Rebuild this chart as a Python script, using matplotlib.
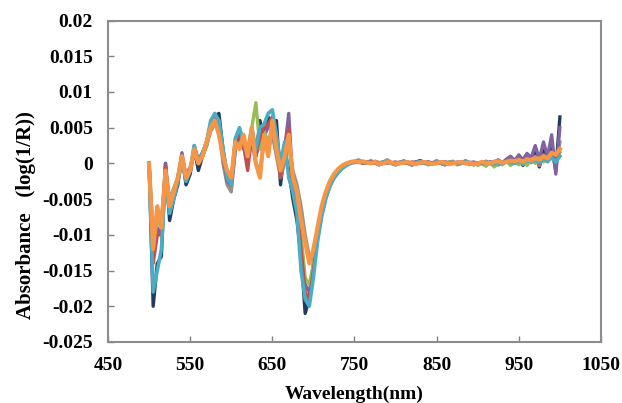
import numpy as np
import matplotlib as mpl
mpl.use("Agg")
import matplotlib.pyplot as plt

mpl.rcParams.update({"font.family": "Liberation Serif", "font.weight": "bold",
                     "axes.labelweight": "bold", "font.size": 14})

# wavelength grid, 5 nm steps from 500 to 1000 nm
wavelength = np.arange(500, 1001, 5)

# absorbance values in units of 1e-3, ten points per row (500-545, 550-595, ...)
navy = [
    0, -20, -14, -13, 0, -8, -5, -3, 1, -3,
    -1.5, 2, -1, 1, 2.5, 5, 6.5, 7, 2, -1.5,
    -3.5, 2, 4, 3, 2, 4, 1, 6, 3, 6.5,
    5, 6, -3, 2, -1, -5, -8, -13, -21, -19,
    -14, -10, -7, -4.5, -3, -2, -1.2, -0.6, -0.2, 0.1,
    0.2, 0.4, 0.2, 0.0, 0.3, 0.1, -0.2, 0.1, 0.4, 0.0,
    -0.2, 0.1, 0.3, 0.0, -0.2, 0.2, 0.4, 0.1, -0.1, 0.0,
    0.3, 0.0, -0.2, 0.1, 0.2, -0.1, 0.0, 0.3, 0.1, -0.2,
    0.1, 0.0, -0.3, 0.2, 0.1, -0.2, 0.0, 0.3, 0.6, 0.1,
    0.9, -0.3, 1.2, 0.2, 1.5, -0.5, 1.8, 0.4, 2.2, -1.0,
    6.5]
gray = [
    0, -10, -7, -8, -1, -5, -3.5, -2, 0.5, -1.5,
    -0.5, 1.5, 0, 1, 2.5, 4.5, 5.5, 5, 0, -3,
    -4, 2, 3, 2.5, 0.5, 3, 0, -1, 3, 2,
    4, 1, -2, 0, 3, -1, -3, -6, -10, -13,
    -13, -10, -7, -4.8, -3.2, -2.1, -1.3, -0.7, -0.3, 0.0,
    0.3, 0.5, 0.2, 0.1, 0.4, 0.0, -0.2, 0.2, 0.5, 0.1,
    -0.2, 0.0, 0.4, 0.1, -0.3, 0.2, 0.3, 0.0, -0.2, 0.1,
    0.4, 0.0, -0.2, 0.2, 0.3, -0.2, 0.0, 0.4, 0.1, -0.2,
    0.0, 0.2, -0.2, 0.1, 0.3, -0.1, 0.1, 0.2, 0.5, 0.0,
    0.6, -0.2, 0.8, 0.1, 1.0, -0.3, 1.2, 0.2, 1.6, -0.5,
    3.0]
purple = [
    0, -13, -9, -10, 0, -6, -4, -2, 1.5, -2,
    -1, 2.5, 0.5, 1.5, 3, 5.5, 6, 5, 1, -2.5,
    -3, 3, 4.5, 2, 1.5, 4, 1, 3, 4, 5,
    6, 3, -1, 2, 7, -3, -6, -11, -17, -18,
    -15, -10.5, -7.2, -4.8, -3.1, -2, -1.2, -0.6, -0.2, 0.1,
    0.2, 0.3, 0.1, 0.2, 0.0, 0.3, 0.1, 0.0, 0.2, 0.1,
    0.0, 0.2, 0.1, 0.0, 0.1, 0.2, 0.0, 0.1, 0.2, 0.0,
    0.1, 0.0, 0.2, 0.1, 0.0, 0.2, 0.1, 0.0, 0.1, 0.2,
    0.0, 0.1, 0.3, 0.0, 0.2, 0.5, 0.1, 0.6, 1.0, 0.4,
    1.2, 0.5, 1.4, 0.8, 2.5, 0.6, 3.0, 1.0, 4.0, -1.5,
    5.0]
green = [
    0, -11, -8, -9, -1, -5.5, -3.5, -2, 1, -2,
    -1, 2, 0, 1, 2.5, 5, 6, 5, 1.5, -1.5,
    -2.5, 3.5, 4, 3, 2, 5, 8.5, 2, 4.5, 3,
    5, 3, 0, 1, 3, -2, -5, -10, -16, -17,
    -14, -10, -6.8, -4.5, -3, -1.9, -1.1, -0.5, -0.1, 0.1,
    0.2, 0.1, 0.2, 0.0, 0.1, 0.2, 0.0, 0.1, 0.0, 0.1,
    0.0, 0.1, 0.2, 0.0, 0.1, 0.0, 0.1, 0.2, 0.0, 0.1,
    0.0, 0.1, 0.0, 0.2, 0.1, 0.0, 0.1, 0.0, -0.2, 0.1,
    -0.3, 0.0, -0.4, 0.1, -0.5, 0.0, -0.2, 0.3, -0.3, 0.2,
    -0.2, 0.4, -0.3, 0.6, 0.0, 0.8, 0.2, 0.5, 1.0, 0.3,
    1.5]
red = [
    0, -14, -10, -10, -0.5, -6.5, -4, -2.5, 1, -2.5,
    -1, 2, 0, 1, 3, 5.5, 6.5, 6, 1.5, -2,
    -3, 3, 4, 2.5, -1, 4, 1.5, 3.5, 5, 5.5,
    6.5, 4, -2, 2, 5, -3, -6, -12, -18, -19,
    -15, -10.5, -7, -4.7, -3.1, -2, -1.2, -0.6, -0.2, 0.1,
    0.1, 0.2, 0.0, 0.1, 0.2, 0.0, 0.1, 0.2, 0.0, 0.1,
    0.2, 0.0, 0.1, 0.0, 0.2, 0.1, 0.0, 0.1, 0.2, 0.0,
    0.0, 0.1, 0.2, 0.0, 0.1, 0.0, 0.2, 0.1, 0.0, 0.1,
    0.1, 0.0, 0.2, 0.1, 0.0, 0.3, 0.0, 0.2, 0.4, 0.1,
    0.5, 0.1, 0.7, 0.2, 0.9, 0.0, 1.1, 0.3, 1.4, 0.5,
    2.0]
lightblue = [
    0, -18, -15, -12, -2, -7, -5, -2.5, 0.5, -2.5,
    -1, 2.5, 0, 1.5, 3, 6, 7, 6, 2, -2,
    -3, 3.5, 5, 3, 1, 5, 2, 5, 5.5, 7,
    7.5, 4, 0, 3, -2, -4, -7, -15, -19, -20,
    -16, -11, -7.5, -5, -3.2, -2, -1.3, -0.7, -0.3, 0.0,
    0.2, 0.3, 0.1, 0.2, 0.0, 0.1, 0.0, 0.2, 0.1, 0.0,
    0.1, 0.0, 0.2, 0.1, 0.0, 0.1, 0.2, 0.0, 0.1, 0.0,
    0.1, 0.2, 0.0, 0.1, 0.0, 0.1, 0.0, 0.2, 0.1, 0.0,
    0.0, 0.1, 0.2, 0.0, -0.1, 0.1, 0.0, 0.2, 0.1, 0.0,
    0.3, 0.0, 0.4, 0.2, 0.5, 0.1, 0.6, 0.3, 0.8, 0.2,
    1.0]
orange = [
    0, -12, -6, -9, -1, -6, -4, -2, 1, -2,
    -1, 2, 0, 1, 3, 5, 6, 4, 1, -1,
    -2, 3, 2, 4, 1, 5, 0, -2, 4, 1,
    6, 2, -1, 1, 4, -2, -4, -8, -11, -14,
    -12, -9, -6, -4, -2.5, -1.5, -0.8, -0.3, 0.0, 0.2,
    0.3, 0.2, 0.3, 0.1, 0.0, 0.2, -0.1, 0.0, 0.2, 0.1,
    -0.1, 0.0, 0.1, 0.2, 0.0, -0.1, 0.1, 0.2, 0.0, -0.1,
    0.0, 0.2, 0.1, -0.1, 0.0, 0.1, 0.2, 0.0, 0.1, -0.1,
    0.0, 0.2, 0.1, 0.0, 0.2, 0.3, 0.1, 0.2, 0.4, 0.3,
    0.5, 0.2, 0.6, 0.4, 0.8, 0.5, 1.0, 0.7, 1.5, 1.2,
    2.0]

series = [navy, gray, purple, green, red, lightblue, orange]
colors = ["#1F3B5E", "#9A9088", "#8064A2", "#9BBB59", "#C0504D", "#4BACC6", "#F79646"]
widths = [2.4, 2.4, 2.4, 2.4, 2.4, 2.6, 3.0]

xticks = [450, 550, 650, 750, 850, 950, 1050]
yticks = [-0.025, -0.02, -0.015, -0.01, -0.005, 0, 0.005, 0.01, 0.015, 0.02]
ytick_labels = ["-0.025", "-0.02", "-0.015", "-0.01", "-0.005", "0", "0.005", "0.01", "0.015", "0.02"]

fig = plt.figure(figsize=(6.22, 4.03), dpi=100)
ax = fig.add_axes([0.1736, 0.1514, 0.7926, 0.7977])

for vals, c, w in zip(series, colors, widths):
    ax.plot(wavelength, np.array(vals) * 1e-3, color=c, lw=w)

ax.set_xlim(450, 1050)
ax.set_ylim(-0.025, 0.02)
ax.set_xticks(xticks)
ax.set_xticklabels([str(t) for t in xticks])
ax.set_yticks(yticks)
ax.set_yticklabels(ytick_labels)
ax.tick_params(direction="in", length=4, width=1, color="#808080", pad=11)

for sp in ax.spines.values():
    sp.set_color("#8c8c8c")
    sp.set_linewidth(1.5)

ax.set_xlabel("Wavelength(nm)", labelpad=8)
ax.set_ylabel("Absorbance   (log(1/R))", fontsize=15)
ax.yaxis.set_label_coords(-0.145, 0.395)

fig.savefig("out.png", dpi=100)
